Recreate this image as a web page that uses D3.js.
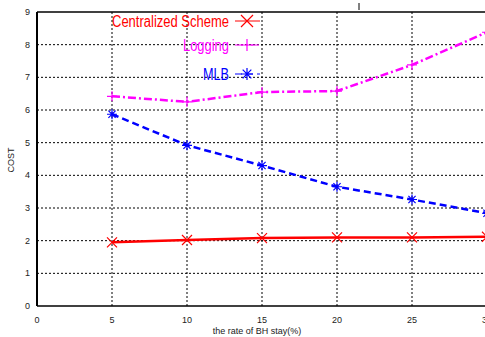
<!DOCTYPE html>
<html>
<head>
<meta charset="utf-8">
<script src="https://cdn.jsdelivr.net/npm/d3@7"></script>
<style>
  body { margin: 0; background: #fff; }
  svg { display: block; font-family: "Liberation Sans", Arial, sans-serif; }
</style>
</head>
<body>
<svg width="485" height="337"></svg>
<script>
// data
const xTicks = [0, 5, 10, 15, 20, 25, 30];
const yTicks = [0, 1, 2, 3, 4, 5, 6, 7, 8, 9];
const rates = [5, 10, 15, 20, 25, 30];
const centralized = [1.95, 2.02, 2.08, 2.1, 2.1, 2.12];
const logging = [6.42, 6.25, 6.55, 6.58, 7.38, 8.38];
const mlb = [5.87, 4.92, 4.3, 3.65, 3.26, 2.84];

const svg = d3.select('svg');
const margin = {left: 37, top: 12, bottom: 31};
const x = d3.scaleLinear().domain([0, 30]).range([margin.left, 487]);
const y = d3.scaleLinear().domain([0, 9]).range([306, margin.top]);

// grid
const grid = svg.append('g');
grid.selectAll('.vg').data(xTicks.slice(1))
  .enter().append('line')
  .attr('x1', d => x(d)).attr('x2', d => x(d))
  .attr('y1', y(0)).attr('y2', y(9))
  .style('stroke', '#000').style('stroke-width', 1)
  .style('stroke-dasharray', '2,2');
grid.selectAll('.hg').data(yTicks.slice(1, -1))
  .enter().append('line')
  .attr('x1', x(0)).attr('x2', 485)
  .attr('y1', d => y(d)).attr('y2', d => y(d))
  .style('stroke', '#000').style('stroke-width', 1)
  .style('stroke-dasharray', '2,2');

// frame
svg.append('line').attr('x1', x(0)).attr('x2', 485).attr('y1', y(9)).attr('y2', y(9))
  .style('stroke', '#000').style('stroke-width', 1.5);
svg.append('line').attr('x1', x(0)).attr('x2', 485).attr('y1', y(0)).attr('y2', y(0))
  .style('stroke', '#000').style('stroke-width', 1.5);
svg.append('line').attr('x1', x(0)).attr('x2', x(0)).attr('y1', y(0)).attr('y2', y(9))
  .style('stroke', '#000').style('stroke-width', 2);
// small mark at top
svg.append('line').attr('x1', 359).attr('x2', 359).attr('y1', 3).attr('y2', 10)
  .style('stroke', '#000').style('stroke-width', 1);

// tick labels
svg.selectAll('.xt').data(xTicks).enter().append('text')
  .attr('x', d => x(d)).attr('y', 323)
  .attr('text-anchor', 'middle').style('font-size', '9px').style('fill', '#222')
  .text(d => d);
svg.selectAll('.yt').data(yTicks).enter().append('text')
  .attr('x', 30).attr('y', d => y(d) + 3)
  .attr('text-anchor', 'end').style('font-size', '9px').style('fill', '#222')
  .text(d => d);

svg.append('text').attr('x', 257).attr('y', 334).attr('text-anchor', 'middle')
  .style('font-size', '9px').style('fill', '#222').text('the rate of BH stay(%)');
svg.append('text').attr('transform', 'translate(14,160) rotate(-90)')
  .attr('text-anchor', 'middle').style('font-size', '9px').style('fill', '#222').text('COST');

// marker shapes
const markerPath = (type, s) => {
  if (type === 'x') return `M${-s},${-s}L${s},${s}M${-s},${s}L${s},${-s}`;
  if (type === '+') return `M${-s},0L${s},0M0,${-s}L0,${s}`;
  const d = s * 0.72;
  return `M${-s},0L${s},0M0,${-s}L0,${s}M${-d},${-d}L${d},${d}M${-d},${d}L${d},${-d}`;
};

const series = [
  {name: 'Centralized Scheme', values: centralized, color: '#ff0000', dash: null, marker: 'x', ly: 21, tw: 117},
  {name: 'Logging', values: logging, color: '#ff00ff', dash: '8,3,2,3', marker: '+', ly: 45, tw: 46},
  {name: 'MLB', values: mlb, color: '#0000ff', dash: '7,4', marker: '*', ly: 74, tw: 26}
];

const line = d3.line().x((d, i) => x(rates[i])).y(d => y(d));

series.forEach(s => {
  svg.append('path').datum(s.values)
    .attr('d', line)
    .style('fill', 'none').style('stroke', s.color).style('stroke-width', 2.5)
    .style('stroke-dasharray', s.dash);
  svg.selectAll(null).data(s.values).enter().append('path')
    .attr('transform', (d, i) => `translate(${x(rates[i])},${y(d)})`)
    .attr('d', markerPath(s.marker, 5))
    .style('stroke', s.color).style('stroke-width', 1.2).style('fill', 'none');

  // legend
  svg.append('text').attr('x', 229).attr('y', s.ly + 6).attr('text-anchor', 'end')
    .attr('textLength', s.tw).attr('lengthAdjust', 'spacingAndGlyphs')
    .style('font-size', '16px').style('fill', s.color).text(s.name);
  svg.append('line').attr('x1', 235).attr('x2', 260).attr('y1', s.ly).attr('y2', s.ly)
    .style('stroke', s.color).style('stroke-width', 1).style('stroke-dasharray', s.dash);
  svg.append('path').attr('transform', `translate(247,${s.ly})`)
    .attr('d', markerPath(s.marker, 6))
    .style('stroke', s.color).style('stroke-width', 1.2).style('fill', 'none');
});
</script>
</body>
</html>
